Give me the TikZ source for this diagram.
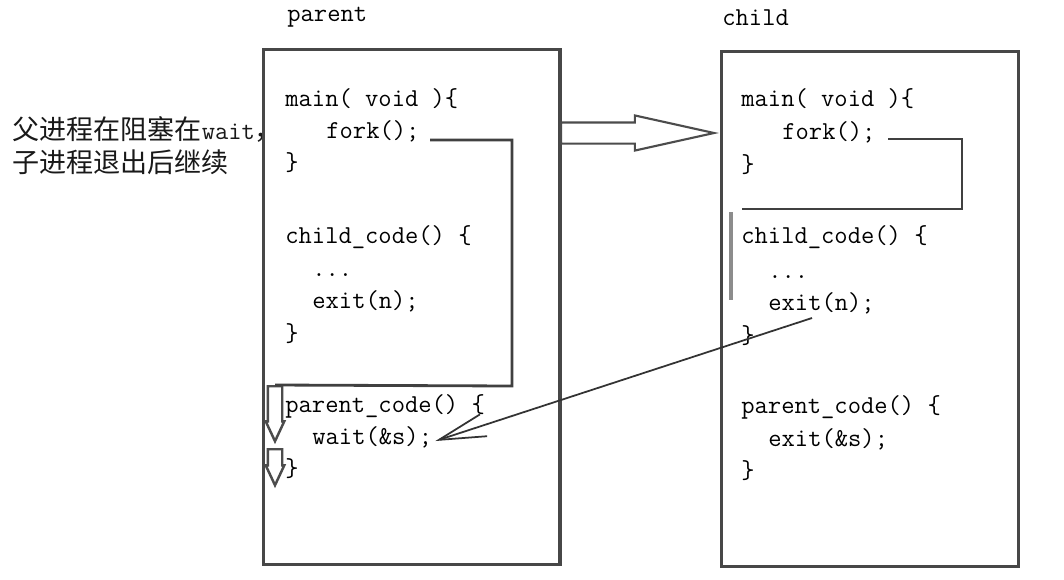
\documentclass[tikz,border=0pt]{standalone}
\usepackage{fontspec}
\newfontfamily\cjk{Noto Sans CJK SC}
\usetikzlibrary{shapes.arrows, arrows.meta, calc}

\newcommand{\codefont}{\ttfamily\fontsize{14.7}{17}\selectfont}

\begin{document}
\begin{tikzpicture}[
    x=0.02cm, y=-0.02cm,
    code/.style={font=\codefont, text=black, inner sep=0pt, anchor=base west},
    note/.style={font={\cjk\fontsize{15.4}{18}\selectfont}, text=black!90, inner sep=0pt, anchor=base west},
    codebox/.style={draw=black!72, line width=1.8pt, fill=white, anchor=north west,
                    minimum height=10.3cm, inner sep=0pt},
    flow/.style={draw=black!75, line width=1.6pt},
    forkarrow/.style={single arrow, draw=black!70, fill=white, line width=1.2pt,
                      inner xsep=0pt, inner ysep=0.19cm, single arrow head extend=0.14cm,
                      single arrow tip angle=25, minimum height=3.06cm},
    downflow/.style={single arrow, draw=black!70, fill=white, line width=1.4pt,
                     inner xsep=0pt, inner ysep=0.12cm, single arrow head extend=0.04cm,
                     single arrow tip angle=50, rotate=-90, anchor=west},
    waitarrow/.style={draw=black!80, line width=1pt, -{Straight Barb[length=0.94cm, width=0.46cm]}}
  ]
  \useasboundingbox (0,0) rectangle (1064,579);

  % Hinweis links
  \node[note] (note1) at (12,139) {父进程在阻塞在{\codefont wait}，};
  \node[note] (note2) at (12,172) {子进程退出后继续};

  % Kaesten
  \node[codebox, minimum width=5.93cm] (pbox) at (262,48) {};
  \node[codebox, minimum width=5.94cm] (cbox) at (720,50) {};
  \node[code] (plabel) at (287,21) {parent};
  \node[code] (clabel) at (722,25) {child};

  % parent
  \node[code] (pmain)   at (285,106) {main( void )\{};
  \node[code] (pfork)   at (326,138) {fork();};
  \node[code] (pend1)   at (285,170) {\}};
  \node[code] (pchild)  at (285,243) {child\_code() \{};
  \node[code] (pdots)   at (312,276) {...};
  \node[code] (pexit)   at (312,308) {exit(n);};
  \node[code] (pend2)   at (285,341) {\}};
  \node[code] (pparent) at (285,412) {parent\_code() \{};
  \node[code] (pwait)   at (312,444) {wait(\&s);};
  \node[code] (pend3)   at (285,476) {\}};

  % child
  \node[code] (cmain)   at (741,106) {main( void )\{};
  \node[code] (cfork)   at (782,139) {fork();};
  \node[code] (cend1)   at (741,172) {\}};
  \node[code] (cchild)  at (741,243) {child\_code() \{};
  \node[code] (cdots)   at (768,278) {...};
  \node[code] (cexit)   at (768,310) {exit(n);};
  \node[code] (cend2)   at (741,343) {\}};
  \node[code] (cparent) at (741,413) {parent\_code() \{};
  \node[code] (cexits)  at (768,446) {exit(\&s);};
  \node[code] (cend3)   at (741,478) {\}};

  % fork -> child
  \node[forkarrow, anchor=west] (forkarr) at (560,133) {};

  % Ablauf parent
  \coordinate (pforkout) at (430,140);
  \coordinate (pturn) at (512,386);
  \node[downflow, minimum height=1.1cm] (pdown1) at (275,385) {};
  \node[downflow, minimum height=0.72cm] (pdown2) at (275,448) {};
  \draw[flow] (pforkout) -| (pturn) -- (pdown1.west);

  % Ablauf child
  \coordinate (cforkout) at (888,139);
  \coordinate (cturn) at (962,209);
  \coordinate (cback) at (742,209);
  \draw[flow] (cforkout) -| (cturn) -- (cback);
  \coordinate (cdowntop) at (731,212);
  \coordinate (cdownend) at (731,300);
  \draw[flow, draw=black!45, line width=2.4pt] (cdowntop) -- (cdownend);

  % exit(n) -> wait(&s)
  \draw[waitarrow] ($(cexit.base west)+(44,8)$) -- ($(pwait.base east)+(3,-3)$);
\end{tikzpicture}
\end{document}
